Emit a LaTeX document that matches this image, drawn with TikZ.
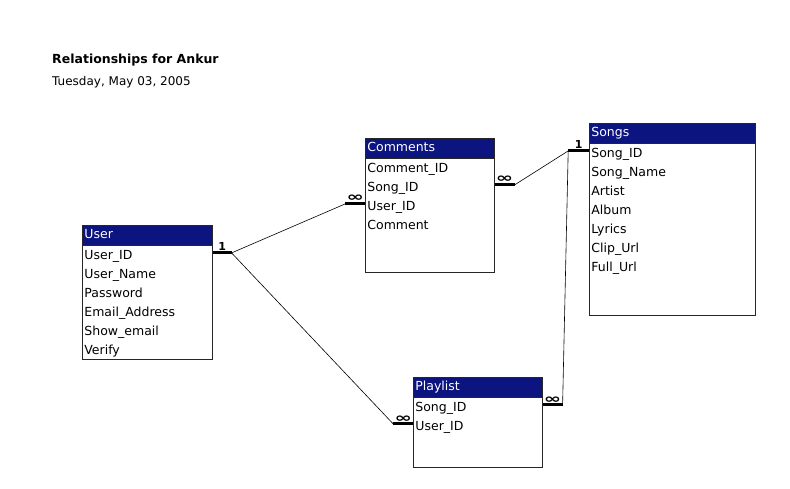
\documentclass[tikz,border=0pt]{standalone}
\usepackage{fontspec}
\setmainfont{DejaVu Sans}
\definecolor{accessblue}{RGB}{12,20,128}

\tikzstyle{tablebox} = [rectangle, draw=black!85, line width=0.8pt, anchor=north west, inner sep=0pt]
\tikzstyle{header} = [rectangle, fill=accessblue, draw=black!85, line width=0.8pt, text=white, anchor=north west, minimum height=20pt, inner sep=2pt, align=left, execute at begin node=\strut]
\tikzstyle{field} = [rectangle, inner sep=2pt, minimum height=19pt, align=left, execute at begin node=\strut]
\tikzstyle{bar} = [line width=3pt]
\tikzstyle{link} = [line width=0.6pt]
\tikzstyle{one} = [midway, above, inner sep=1pt, font=\bfseries\fontsize{11pt}{11pt}\selectfont]
\tikzstyle{many} = [midway, above, inner sep=0.4pt, font=\bfseries\fontsize{13pt}{13pt}\selectfont]

\begin{document}
\begin{tikzpicture}[x=1pt, y=-1pt, node distance=19pt, font=\fontsize{12.5pt}{15pt}\selectfont]
\useasboundingbox (0,0) rectangle (790,489);

% Title
\node (title) [anchor=base west, inner sep=0pt, font=\bfseries\fontsize{12.5pt}{15pt}\selectfont] at (52,64) {Relationships for Ankur};
\node (date) [anchor=base west, inner sep=0pt, font=\fontsize{12pt}{15pt}\selectfont] at (52,86) {Tuesday, May 03, 2005};

% User table
\node (userbox) [tablebox, minimum width=130pt, minimum height=134pt] at (82,225) {};
\node (userhead) [header, text width=126pt] at (82,225) {User};
\node (usrid) [field, text width=126pt, below of=userhead, yshift=-2pt] {User\_ID};
\node (usrname) [field, text width=126pt, below of=usrid] {User\_Name};
\node (usrpass) [field, text width=126pt, below of=usrname] {Password};
\node (usrmail) [field, text width=126pt, below of=usrpass] {Email\_Address};
\node (usrshow) [field, text width=126pt, below of=usrmail] {Show\_email};
\node (usrver) [field, text width=126pt, below of=usrshow] {Verify};

% Comments table
\node (cmtbox) [tablebox, minimum width=129pt, minimum height=134pt] at (365,138) {};
\node (cmthead) [header, text width=125pt] at (365,138) {Comments};
\node (cmtid) [field, text width=125pt, below of=cmthead, yshift=-2pt] {Comment\_ID};
\node (cmtsong) [field, text width=125pt, below of=cmtid] {Song\_ID};
\node (cmtuser) [field, text width=125pt, below of=cmtsong] {User\_ID};
\node (cmttext) [field, text width=125pt, below of=cmtuser] {Comment};

% Songs table
\node (sngbox) [tablebox, minimum width=166pt, minimum height=192pt] at (589,123) {};
\node (snghead) [header, text width=162pt] at (589,123) {Songs};
\node (sngid) [field, text width=162pt, below of=snghead, yshift=-2pt] {Song\_ID};
\node (sngname) [field, text width=162pt, below of=sngid] {Song\_Name};
\node (sngartist) [field, text width=162pt, below of=sngname] {Artist};
\node (sngalbum) [field, text width=162pt, below of=sngartist] {Album};
\node (snglyrics) [field, text width=162pt, below of=sngalbum] {Lyrics};
\node (sngclip) [field, text width=162pt, below of=snglyrics] {Clip\_Url};
\node (sngfull) [field, text width=162pt, below of=sngclip] {Full\_Url};

% Playlist table
\node (plbox) [tablebox, minimum width=129pt, minimum height=90pt] at (413,377) {};
\node (plhead) [header, text width=125pt] at (413,377) {Playlist};
\node (plsong) [field, text width=125pt, below of=plhead, yshift=-2pt] {Song\_ID};
\node (pluser) [field, text width=125pt, below of=plsong] {User\_ID};

% Line ends
\coordinate (usrout) at ([xshift=19pt, yshift=3.5pt]usrid.east);
\coordinate (cmtin) at ([xshift=-20pt, yshift=3.5pt]cmtuser.west);
\coordinate (cmtout) at ([xshift=20pt, yshift=3.5pt]cmtsong.east);
\coordinate (sngin) at ([xshift=-21pt, yshift=3.5pt]sngid.west);
\coordinate (plin) at ([xshift=-20pt, yshift=3.5pt]pluser.west);
\coordinate (plout) at ([xshift=20pt, yshift=3.5pt]plsong.east);

% Draw bars
\draw [bar] ([yshift=3.5pt]usrid.east) -- (usrout) node [one] {1};
\draw [bar] (cmtin) -- ([yshift=3.5pt]cmtuser.west) node [many] {\scalebox{1.6}[1]{∞}};
\draw [bar] ([yshift=3.5pt]cmtsong.east) -- (cmtout) node [many] {\scalebox{1.6}[1]{∞}};
\draw [bar] (sngin) -- ([yshift=3.5pt]sngid.west) node [one] {1};
\draw [bar] (plin) -- ([yshift=3.5pt]pluser.west) node [many] {\scalebox{1.6}[1]{∞}};
\draw [bar] ([yshift=3.5pt]plsong.east) -- (plout) node [many] {\scalebox{1.6}[1]{∞}};

% Draw links
\draw [link] (usrout) -- (cmtin);
\draw [link] (usrout) -- (plin);
\draw [link] (cmtout) -- (sngin);
\draw [link] (plout) -- (sngin);

\end{tikzpicture}
\end{document}
